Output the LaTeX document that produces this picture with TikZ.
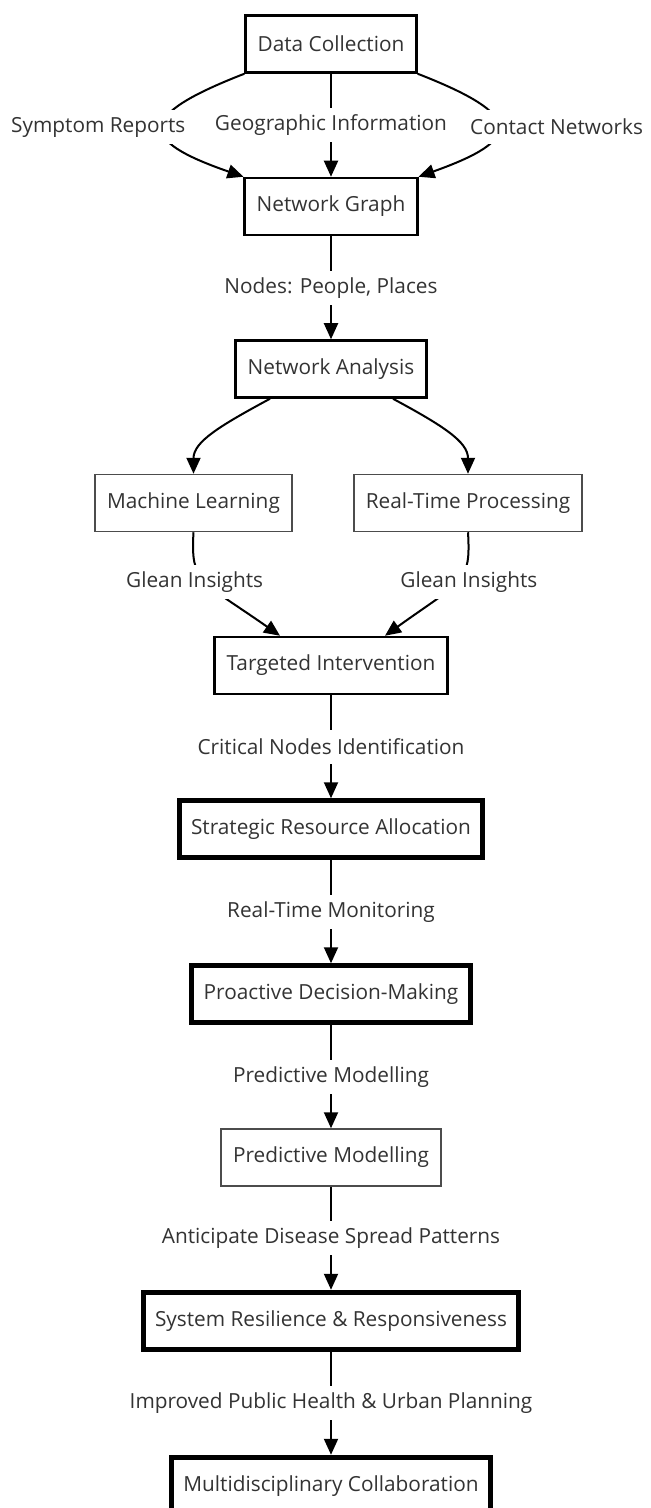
\documentclass[tikz,border=0pt]{standalone}
\usepackage{fontspec}
\setmainfont{Open Sans}
\usepackage{tikz}
\usetikzlibrary{positioning, arrows.meta}
\usepackage{xcolor}
\definecolor{txtgray}{HTML}{333333}

\begin{document}
\begin{tikzpicture}[node distance=51.5pt, >={Triangle[length=8pt,width=7pt]},
    every node/.style={font=\fontsize{10.4}{12.5}\selectfont, text=txtgray},
    box/.style={draw, minimum height=28.5pt, inner xsep=6pt, line width=1.25pt},
    thinbox/.style={box, line width=0.75pt, draw=black!70},
    thickbox/.style={box, line width=2.5pt},
    lbl/.style={fill=white, minimum height=17pt, inner xsep=1pt, inner ysep=0pt},
    edge/.style={->, line width=1pt}]
  \useasboundingbox (0,0) rectangle (325.5pt,-754pt);
  \node[box] (dc) at (165.5pt,-22pt) {Data Collection};
  \node[box] (ng) [below=of dc] {Network Graph};
  \node[box] (na) [below=of ng] {Network Analysis};
  \node[thinbox] (ml) [below=37.5pt of na, xshift=-68.75pt] {Machine Learning};
  \node[thinbox] (rtp) [below=37.5pt of na, xshift=68.5pt] {Real-Time Processing};
  \node[box] (ti) [below=118.5pt of na] {Targeted Intervention};
  \node[thickbox] (sra) [below=of ti] {Strategic Resource Allocation};
  \node[thickbox] (pdm) [below=of sra] {Proactive Decision-Making};
  \node[thinbox] (pm) [below=of pdm] {Predictive Modelling};
  \node[thickbox] (sr) [below=of pm] {System Resilience \& Responsiveness};
  \node[thickbox] (mc) [below=of sr] {Multidisciplinary Collaboration};
  % inputs
  \draw[edge] (dc.south west) .. controls +(-54pt,-21pt) and +(-53.5pt,18.5pt) ..
    node[lbl, xshift=-32.5pt] {Symptom Reports} (ng.north west);
  \draw[edge] (dc) -- node[lbl] {Geographic Information} (ng);
  \draw[edge] (dc.south east) .. controls +(54pt,-21pt) and +(52pt,18.5pt) ..
    node[lbl, xshift=29.5pt] {Contact Networks} (ng.north east);
  \draw[edge] (ng) -- node[lbl] {Nodes: People, Places} (na);
  % two branches
  \draw[edge] ([xshift=-30.5pt]na.south) .. controls +(-25pt,-13.5pt) and +(0,16pt) .. (ml.north);
  \draw[edge] ([xshift=31pt]na.south) .. controls +(25pt,-13.5pt) and +(0,16pt) .. (rtp.north);
  \draw[edge] (ml.south) .. controls +(-1.5pt,-25.5pt) and +(-40pt,28pt) ..
    node[lbl, xshift=-5.5pt] {Glean Insights} ([xshift=-25.5pt]ti.north);
  \draw[edge] (rtp.south) .. controls +(1.5pt,-25.5pt) and +(39pt,28pt) ..
    node[lbl, xshift=6pt] {Glean Insights} ([xshift=27pt]ti.north);
  % main chain
  \draw[edge] (ti) -- node[lbl] {Critical Nodes Identification} (sra);
  \draw[edge] (sra) -- node[lbl] {Real-Time Monitoring} (pdm);
  \draw[edge] (pdm) -- node[lbl] {Predictive Modelling} (pm);
  \draw[edge] (pm) -- node[lbl] {Anticipate Disease Spread Patterns} (sr);
  \draw[edge] (sr) -- node[lbl] {Improved Public Health \& Urban Planning} (mc);
\end{tikzpicture}
\end{document}
